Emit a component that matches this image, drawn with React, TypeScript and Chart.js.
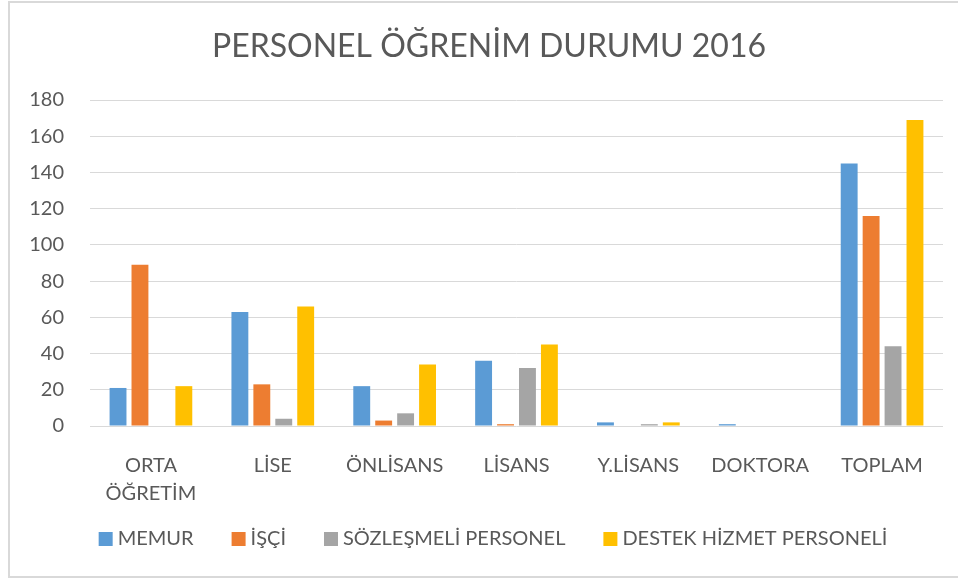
import React, { useEffect, useRef } from "react";
import { Chart, registerables } from "chart.js";

Chart.register(...registerables);

const titleText = "PERSONEL ÖĞRENİM DURUMU 2016";
const categories: (string | string[])[] = [
  ["ORTA", "ÖĞRETİM"],
  "LİSE",
  "ÖNLİSANS",
  "LİSANS",
  "Y.LİSANS",
  "DOKTORA",
  "TOPLAM",
];
const memur = [21, 63, 22, 36, 2, 1, 145];
const isci = [89, 23, 3, 1, 0, 0, 116];
const sozlesmeli = [0, 4, 7, 32, 1, 0, 44];
const destek = [22, 66, 34, 45, 2, 0, 169];
const seriesNames = ["MEMUR", "İŞÇİ", "SÖZLEŞMELİ PERSONEL", "DESTEK HİZMET PERSONELİ"];
const seriesColors = ["#5B9BD5", "#ED7D31", "#A5A5A5", "#FFC000"];

const FONT = "Lato, 'Open Sans', sans-serif";
const TEXT_COLOR = "#595959";

const framePlugin = {
  id: "frame",
  beforeDraw(chart: any) {
    const ctx = chart.ctx;
    ctx.save();
    ctx.fillStyle = "#ffffff";
    ctx.fillRect(0, 0, chart.width, chart.height);
    ctx.strokeStyle = "#d9d9d9";
    ctx.lineWidth = 2;
    ctx.strokeRect(9, 2, chart.width + 10, 575);
    ctx.restore();
  },
  afterDraw(chart: any) {
    const ctx = chart.ctx;
    ctx.save();
    // title
    ctx.fillStyle = TEXT_COLOR;
    ctx.font = `normal 32px ${FONT}`;
    ctx.textAlign = "center";
    ctx.textBaseline = "middle";
    ctx.fillText(titleText, 489, 47);
    // legend
    ctx.font = `normal 20px ${FONT}`;
    ctx.textAlign = "left";
    const box = 14;
    const boxGap = 5;
    const itemGap = 38;
    const items = chart.data.datasets.map((ds: any) => ({
      text: ds.label,
      color: ds.backgroundColor,
      w: ctx.measureText(ds.label).width,
    }));
    const total =
      items.reduce((s: number, it: any) => s + box + boxGap + it.w, 0) + itemGap * (items.length - 1);
    let x = 493 - total / 2;
    const y = 539;
    for (const it of items) {
      ctx.fillStyle = it.color;
      ctx.fillRect(x, y - box / 2, box, box);
      ctx.fillStyle = TEXT_COLOR;
      ctx.fillText(it.text, x + box + boxGap, y);
      x += box + boxGap + it.w + itemGap;
    }
    ctx.restore();
  },
};

export default function App() {
  const ref = useRef<HTMLCanvasElement | null>(null);
  useEffect(() => {
    if (!ref.current) return;
    const data = [memur, isci, sozlesmeli, destek];
    const chart = new Chart(ref.current, {
      type: "bar",
      data: {
        labels: categories,
        datasets: data.map((d, i) => ({
          label: seriesNames[i],
          data: d,
          backgroundColor: seriesColors[i],
          borderWidth: 0,
          barPercentage: 0.77,
          categoryPercentage: 0.72,
        })),
      },
      options: {
        animation: false,
        responsive: false,
        maintainAspectRatio: false,
        layout: { padding: { left: 0, right: 15, top: 100, bottom: 76 } },
        plugins: {
          title: { display: false },
          legend: { display: false },
          tooltip: { enabled: false },
        },
        scales: {
          x: {
            grid: { display: false },
            border: { display: false },
            ticks: {
              color: TEXT_COLOR,
              font: { family: FONT, size: 20, lineHeight: 1.4 },
              padding: 18,
              maxRotation: 0,
              autoSkip: false,
            },
            afterFit(scale: any) {
              scale.height = 79;
            },
          },
          y: {
            min: 0,
            max: 180,
            ticks: {
              stepSize: 20,
              color: TEXT_COLOR,
              font: { family: FONT, size: 20 },
              padding: 26,
            },
            grid: { color: "#d9d9d9", lineWidth: 1, drawTicks: false },
            border: { display: false },
            afterFit(scale: any) {
              scale.width = 90;
            },
          },
        },
      },
      plugins: [framePlugin],
    });
    return () => chart.destroy();
  }, []);
  return (
    <div style={{ position: "absolute", left: 0, top: 0, width: 958, height: 581 }}>
      <canvas ref={ref} width={958} height={581} style={{ width: 958, height: 581 }} />
    </div>
  );
}
